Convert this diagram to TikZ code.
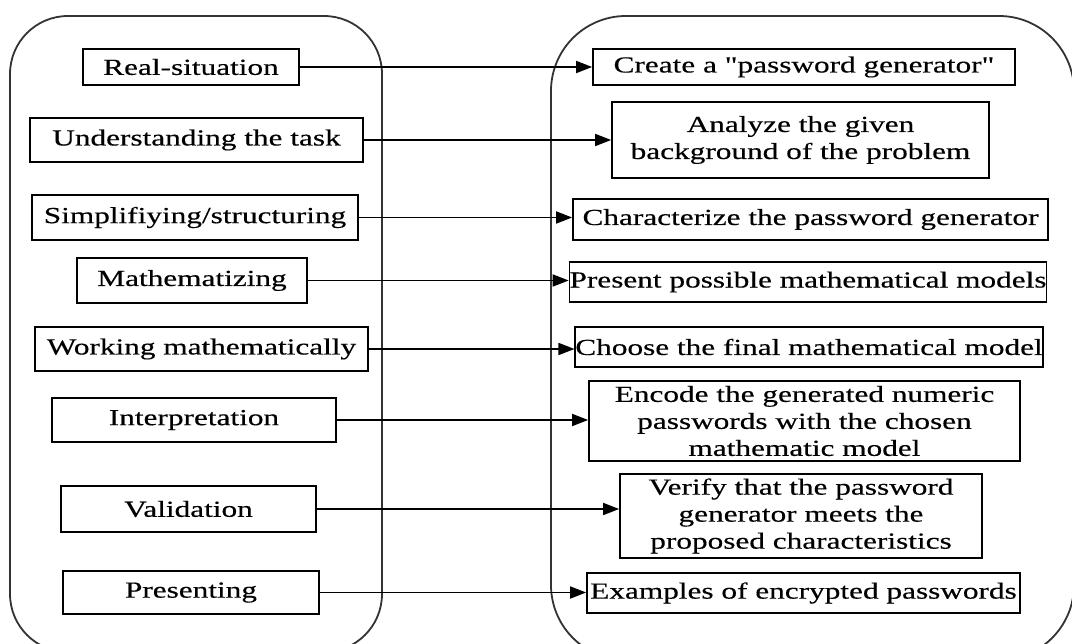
\documentclass[tikz,border=0pt]{standalone}
\usepackage{fontspec}
\setmainfont[FakeStretch=1.36,FakeBold=0.4]{Liberation Serif}
\usetikzlibrary{arrows.meta}
\newcommand\straightquote{{\addfontfeature{Ligatures=TeXOff}\symbol{34}}}
\tikzset{
  stage/.style={draw=black, line width=1.7pt, inner sep=0pt, align=center,
    font=\fontsize{23}{27}\selectfont},
  panel/.style={draw=black!80, line width=1.8pt},
  link/.style={line width=1.7pt, -{Triangle[length=16pt,width=12pt]}},
}
\begin{document}
\begin{tikzpicture}[x=1pt,y=-1pt]
\useasboundingbox (0,0) rectangle (1072,644);

% the two rounded panels, running off the lower edge
\begin{scope}
  \clip (0,0) rectangle (1072,644);
  \draw[panel, rounded corners=58pt] (10,16) rectangle (382,652);
  \draw[panel, rounded corners=75pt] (551,16) rectangle (1074,660);
\end{scope}

% modelling cycle stages
\node[stage, minimum width=216pt, minimum height=36pt] (L1) at (191,67)    {Real-situation};
\node[stage, minimum width=333pt, minimum height=44pt] (L2) at (196.5,140) {Understanding the task};
\node[stage, minimum width=326pt, minimum height=45pt] (L3) at (195,217.5) {Simplifiying/structuring};
\node[stage, minimum width=230pt, minimum height=45pt] (L4) at (192,280.5) {Mathematizing};
\node[stage, minimum width=333pt, minimum height=44pt] (L5) at (201.5,349) {Working mathematically};
\node[stage, minimum width=284pt, minimum height=44pt] (L6) at (194,420)   {Interpretation};
\node[stage, minimum width=255pt, minimum height=46pt] (L7) at (188.5,509) {Validation};
\node[stage, minimum width=256pt, minimum height=43pt] (L8) at (191,592.5) {Presenting};

% matching activities of the task
\node[stage, minimum width=422pt, minimum height=36pt] (R1) at (804,67)     {Create a \straightquote password generator\straightquote};
\node[stage, minimum width=377pt, minimum height=76pt] (R2) at (800.5,140)  {Analyze the given\\background of the problem};
\node[stage, minimum width=475pt, minimum height=41pt] (R3) at (810.5,219.5){Characterize the password generator};
\node[stage, minimum width=474pt, minimum height=40pt] (R4) at (808,282)    {Present possible mathematical models};
\node[stage, minimum width=462pt, minimum height=40pt] (R5) at (809,347)    {Choose the final mathematical model};
\node[stage, minimum width=431pt, minimum height=80pt] (R6) at (804.5,421)  {Encode the generated numeric\\passwords with the chosen\\mathematic model};
\node[stage, minimum width=362pt, minimum height=84pt] (R7) at (801,516)    {Verify that the password\\generator meets the\\proposed characteristics};
\node[stage, minimum width=433pt, minimum height=40pt] (R8) at (803.5,593)  {Examples of encrypted passwords};

% connectors
\foreach \i in {1,...,8}
  \draw[link] (L\i.east) -- (L\i.east -| R\i.west);
\end{tikzpicture}
\end{document}
